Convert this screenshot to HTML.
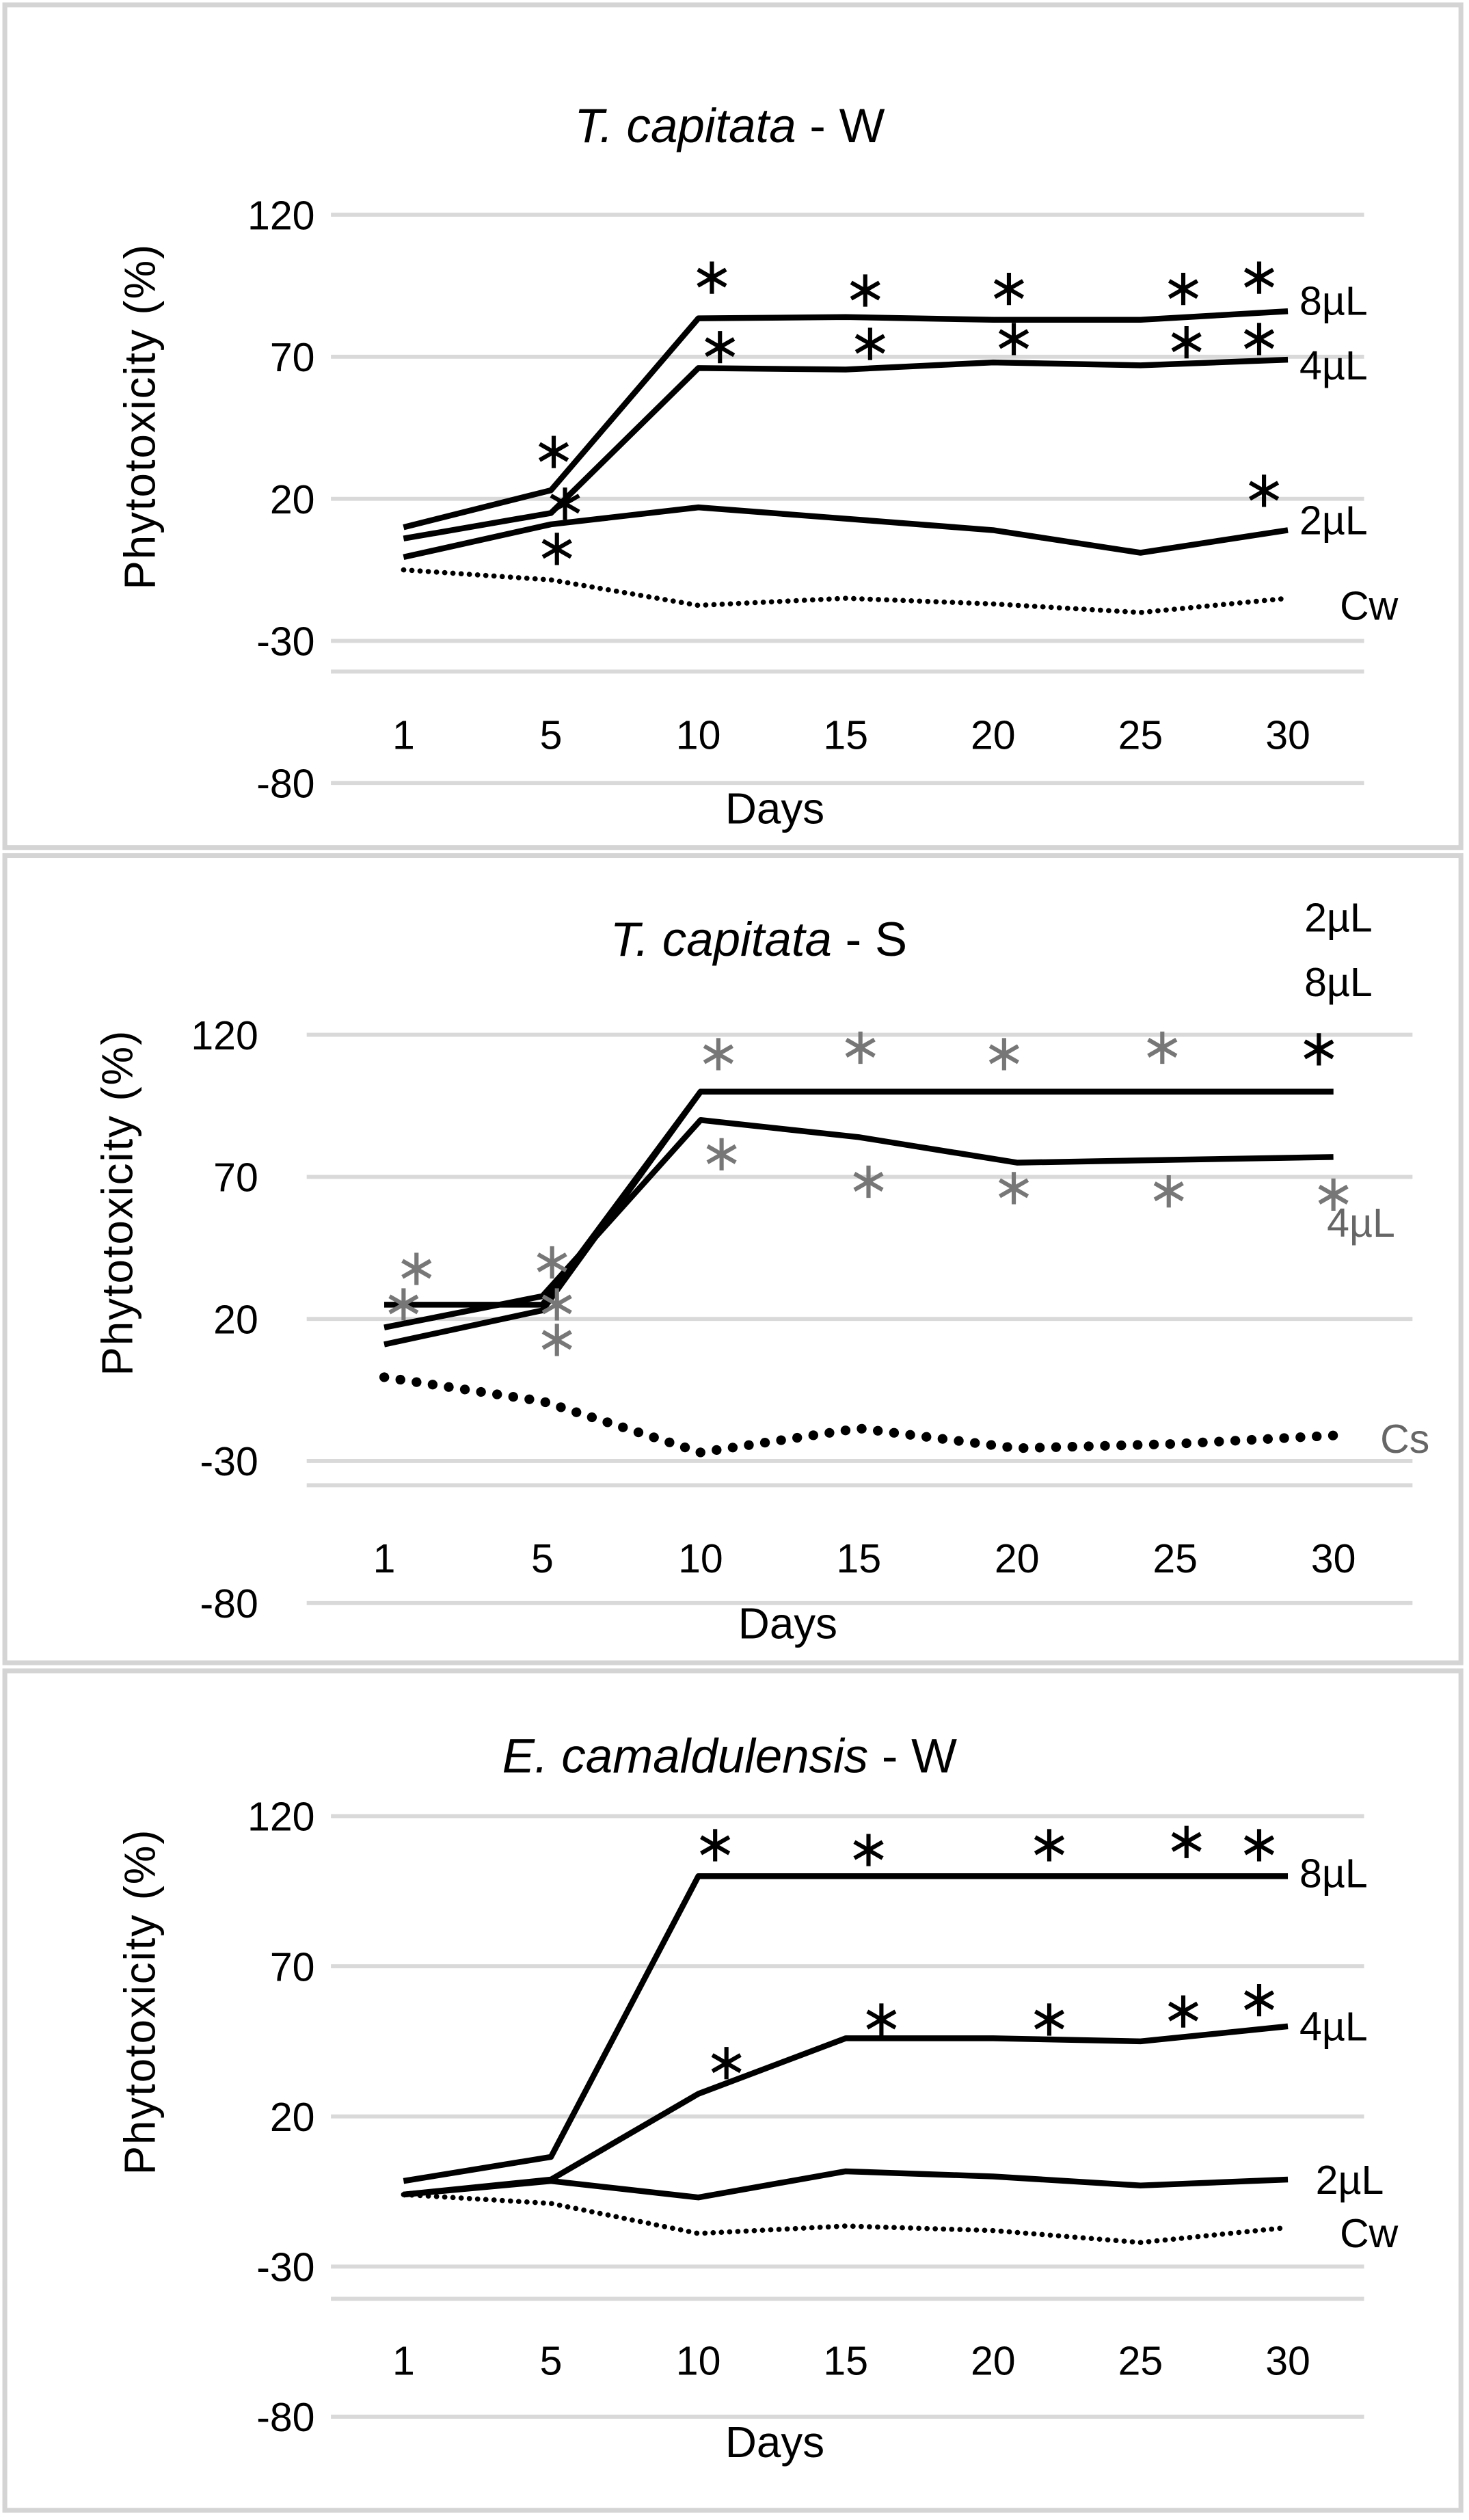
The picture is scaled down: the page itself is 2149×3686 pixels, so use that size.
<!DOCTYPE html>
<html><head><meta charset="utf-8">
<style>
html,body{margin:0;padding:0;background:#fff;}
svg{display:block;}
text{font-family:"Liberation Sans Narrow","Liberation Sans",sans-serif;}
</style></head>
<body>
<svg id="fig" width="2149" height="3686" viewBox="0 0 910 1561" preserveAspectRatio="none" xmlns="http://www.w3.org/2000/svg"></svg>
<script>
const days = ["1","5","10","15","20","25","30"];
const yTicks = [120, 70, 20, -30, -80];

const p1_8 = [10, 23, 83.5, 84, 83, 83, 86];
const p1_4 = [6, 15, 66, 65.5, 68, 67, 69];
const p1_2 = [-0.5, 11, 17, 13, 9, 1, 9];
const p1_c = [-5, -8.5, -17.5, -15, -17, -20, -15];

const p2_2 = [25, 25, 100, 100, 100, 100, 100];
const p2_8 = [11, 23, 100, 100, 100, 100, 100];
const p2_4 = [17, 28, 90, 84, 75, 76, 77];
const p2_c = [-0.5, -9, -27, -18.5, -25.5, -24, -21];

const p3_8 = [-1.5, 6.5, 100, 100, 100, 100, 100];
const p3_4 = [-6, -1, 27.5, 46, 46, 45, 50];
const p3_2 = [-6, -1.5, -7, 1.7, 0, -3, -1];
const p3_c = [-6, -9, -19, -16.5, -18, -22, -17];

const NS = "http://www.w3.org/2000/svg";
const svg = document.getElementById('fig');
function mk(tag, attrs, parent) {
  const e = document.createElementNS(NS, tag);
  for (const k in attrs) e.setAttribute(k, attrs[k]);
  (parent || svg).appendChild(e);
  return e;
}
function txt(s, x, y, size, parent, extra) {
  const t = mk('text', Object.assign({x: x, y: y, 'font-size': size, fill: '#000'}, extra || {}), parent);
  t.textContent = s;
  return t;
}
function asterisk(x, y, color, parent) {
  const g = mk('g', {stroke: color, 'stroke-width': 2.6, 'stroke-linecap': 'butt'}, parent);
  
  
  const r = 10;
  mk('line', {x1: x, y1: y - r, x2: x, y2: y + r}, g);
  mk('line', {x1: x - r*0.87, y1: y - r*0.5, x2: x + r*0.87, y2: y + r*0.5}, g);
  mk('line', {x1: x - r*0.87, y1: y + r*0.5, x2: x + r*0.87, y2: y - r*0.5}, g);
}

function panel(cfg) {
  const g = mk('g', {});
  
  
  const box = mk('rect', {x: 3, y: cfg.top, width: 902, height: cfg.h, fill: '#fff', stroke: '#d4d4d4', 'stroke-width': 3}, g);
  
  
  const y = v => cfg.y20 - (v - 20) * cfg.ppu;
  const x = i => cfg.x0 + i * cfg.dx;
  yTicks.forEach(v => {
    const l = mk('line', {x1: cfg.gx0, x2: cfg.gx1, y1: y(v), y2: y(v), stroke: '#d9d9d9', 'stroke-width': 2.5}, g);
    
    
    const t = txt(String(v), cfg.ylx, y(v) + 9, 25, g, {'text-anchor': 'end'});
    
    
  });
  const ax = mk('line', {x1: cfg.gx0, x2: cfg.gx1, y1: cfg.axY, y2: cfg.axY, stroke: '#d9d9d9', 'stroke-width': 2.5}, g);
  
  
  days.forEach((d, i) => {
    const t = txt(d, x(i), cfg.tickY, 25, g, {'text-anchor': 'middle'});
    
    
  });
  const xt = txt('Days', cfg.daysX, cfg.daysY, 27, g, {'text-anchor': 'middle'});
  
  
  const yt = txt('Phytotoxicity (%)', 0, 0, 27, g, {'text-anchor': 'middle', transform: `translate(${cfg.ytx},${cfg.yty}) rotate(-90)`, style: 'font-family:"Liberation Sans",sans-serif;letter-spacing:0.8px'});
  
  
  const title = txt('', cfg.titleX, cfg.titleY, 30, g, {'text-anchor': 'middle'});
  
  
  const it = mk('tspan', {'font-style': 'italic'}, title); it.textContent = cfg.titleI;
  const nt = mk('tspan', {}, title); nt.textContent = cfg.titleN;

  cfg.series.forEach(s => {
    const pts = s.vals.map((v, i) => x(i).toFixed(1) + ',' + y(v).toFixed(1)).join(' ');
    const attrs = {points: pts, fill: 'none', stroke: '#000', 'stroke-width': 3.6, 'stroke-linejoin': 'round'};
    if (s.dot) { attrs['stroke-dasharray'] = s.dot; attrs['stroke-linecap'] = 'round'; attrs['stroke-width'] = s.dw; }
    const pl = mk('polyline', attrs, g);
    
    
  });
  cfg.labels.forEach(l => {
    const t = txt(l[0], l[1], l[2], 25, g, {fill: l[3] || '#000'});
    
    
  });
  cfg.stars.forEach(s => asterisk(s[0], s[1], s[2] || '#000', g));
}

panel({
  name: 'panel-t-capitata-w', top: 3, h: 522,
  y20: 309, ppu: 1.76, x0: 250, dx: 91.3, gx0: 205, gx1: 845, axY: 416,
  ylx: 195, tickY: 464, daysX: 480, daysY: 510, ytx: 96, yty: 258,
  titleX: 452, titleY: 88, titleI: 'T. capitata', titleN: ' - W',
  series: [
    {name: 'line-8ul', vals: p1_8},
    {name: 'line-4ul', vals: p1_4},
    {name: 'line-2ul', vals: p1_2},
    {name: 'line-cw', vals: p1_c, dot: '0.1 5', dw: 3.2}
  ],
  labels: [['8µL', 805, 195], ['4µL', 805, 235], ['2µL', 805, 331], ['Cw', 830, 384]],
  stars: [[343,280],[350,312],[345,340],[441,172],[446,215],[536,180],[539,213],[625,179],[628,210],[733,179],[735,212],[780,172],[780,210],[783,304]]
});
panel({
  name: 'panel-t-capitata-s', top: 530, h: 500,
  y20: 817, ppu: 1.76, x0: 238, dx: 98, gx0: 190, gx1: 875, axY: 920,
  ylx: 160, tickY: 974, daysX: 488, daysY: 1015, ytx: 82, yty: 745,
  titleX: 470, titleY: 592, titleI: 'T. capitata', titleN: ' - S',
  series: [
    {name: 'line-2ul', vals: p2_2},
    {name: 'line-8ul', vals: p2_8},
    {name: 'line-4ul', vals: p2_4},
    {name: 'line-cs', vals: p2_c, dot: '0.1 10', dw: 6}
  ],
  labels: [['2µL', 808, 577], ['8µL', 808, 617], ['4µL', 822, 766, '#666'], ['Cs', 855, 900, '#666']],
  stars: [[258,786,'#777'],[250,808,'#777'],[342,782,'#777'],[345,808,'#777'],[345,830,'#777'],[445,653,'#777'],[447,715,'#777'],[533,649,'#777'],[538,732,'#777'],[622,653,'#777'],[628,736,'#777'],[720,649,'#777'],[724,738,'#777'],[826,740,'#777'],[817,650]]
});
panel({
  name: 'panel-e-camaldulensis-w', top: 1035, h: 520,
  y20: 1311, ppu: 1.86, x0: 250, dx: 91.3, gx0: 205, gx1: 845, axY: 1424,
  ylx: 195, tickY: 1471, daysX: 480, daysY: 1522, ytx: 96, yty: 1240,
  titleX: 452, titleY: 1098, titleI: 'E. camaldulensis', titleN: ' - W',
  series: [
    {name: 'line-8ul', vals: p3_8},
    {name: 'line-4ul', vals: p3_4},
    {name: 'line-2ul', vals: p3_2},
    {name: 'line-cw', vals: p3_c, dot: '0.1 5', dw: 3.2}
  ],
  labels: [['8µL', 805, 1169], ['4µL', 805, 1264], ['2µL', 815, 1359], ['Cw', 830, 1392]],
  stars: [[443,1143],[538,1146],[650,1143],[735,1141],[780,1143],[450,1278],[546,1251],[650,1251],[733,1246],[780,1239]]
});
</script>
</body></html>
